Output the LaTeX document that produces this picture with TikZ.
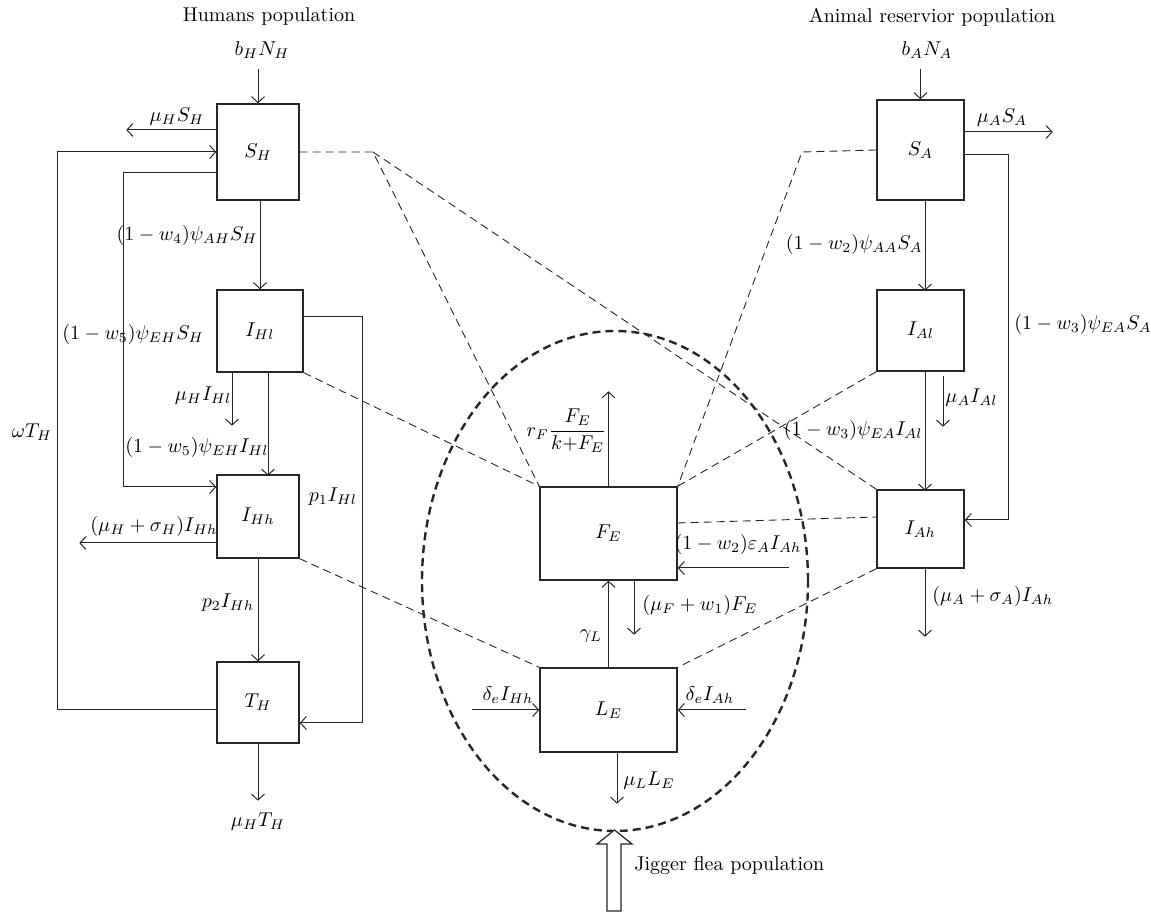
\documentclass[tikz,border=0pt]{standalone}
\usetikzlibrary{arrows.meta,calc}
\begin{document}
\begin{tikzpicture}[x=0.5pt,y=-0.5pt,
  box/.style={draw=black!85, line width=0.7pt, inner sep=0pt},
  arr/.style={draw=black!85, line width=0.5pt, -{Straight Barb[length=3pt,width=6.5pt]}},
  ln/.style={draw=black!85, line width=0.6pt},
  dl/.style={draw=black!85, line width=0.45pt, dash pattern=on 4pt off 2.5pt},
  big/.style={draw=black!85, line width=1.2pt, dash pattern=on 4pt off 2.5pt},
  lbl/.style={inner sep=0pt}]
\useasboundingbox (0,0) rectangle (1151,913);

% big dashed ellipse
\draw[big] (615,581) ellipse [x radius=96.5pt, y radius=125pt];

% boxes
\node[box, minimum width=41pt, minimum height=48pt] (SH) at (258,152) {$S_H$};
\node[box, minimum width=43pt, minimum height=41pt] (IHl) at (260,331) {$I_{Hl}$};
\node[box, minimum width=41pt, minimum height=41.5pt] (IHh) at (258,516.5) {$I_{Hh}$};
\node[box, minimum width=41pt, minimum height=40.5pt] (TH) at (258,702.5) {$T_H$};
\node[box, minimum width=43.5pt, minimum height=50pt] (SA) at (920.5,150) {$S_A$};
\node[box, minimum width=43.5pt, minimum height=40.5pt] (IAl) at (920.5,330.5) {$I_{Al}$};
\node[box, minimum width=43.5pt, minimum height=39pt] (IAh) at (920.5,529) {$I_{Ah}$};
\node[box, minimum width=68.5pt, minimum height=46.5pt] (FE) at (608.5,533.5) {$F_E$};
\node[box, minimum width=68.5pt, minimum height=42pt] (LE) at (608.5,710) {$L_E$};

% dashed interaction lines
\coordinate (cL) at (373,152);
\coordinate (cR) at (802,152);
\draw[dl] (SH.east) -- (cL) -- (FE.north west);
\draw[dl] (cL) -- (IAh.north west);
\draw[dl] (SA.west) -- (cR) -- (FE.north east);
\draw[dl] (IHl.south east) -- (FE.north west);
\draw[dl] (IHh.south east) -- (LE.north west);
\draw[dl] ([yshift=5.25pt]FE.east) -- ([yshift=6pt]IAh.west);
\draw[dl] (IAh.south west) -- (LE.north east);
\draw[dl] (IAl.south west) -- (FE.north east);

% titles
\node[lbl] (hum) at (269,17) {Humans population};
\node[lbl] (bH) at (262,50) {$b_HN_H$};
\node[lbl] (ani) at (932,17) {Animal reservior population};
\node[lbl] (bA) at (927,50) {$b_AN_A$};

% ---------- humans ----------
\draw[arr] (SH.north |- bH.south) ++(0,10) -- (SH.north);
\draw[arr] ([yshift=11pt]SH.west) -- ++(-90,0);
\node[lbl] (muHSH) at (177,117) {$\mu_HS_H$};

\coordinate (cw) at (57,152);
\draw[arr] ([yshift=-3.75pt]TH.west) -| (cw) -- (SH.west);
\node[lbl] (wTH) at (32,432) {$\omega T_H$};

\coordinate (c2) at (123,487);
\draw[arr] ([yshift=-10.5pt]SH.west) -| (c2) -- ([yshift=14.75pt]IHh.west);
\node[lbl] (l5) at (133,335) {$(1-w_5)\psi_{EH}S_H$};

\draw[arr] (IHl.north |- SH.south) -- (IHl.north);
\node[lbl, anchor=east] (l4) at (258,236) {$(1-w_4)\psi_{AH}S_H$};

\draw[arr] ([xshift=-14pt]IHl.south) -- ++(0,53);
\node[lbl] (muHIHl) at (203,396) {$\mu_HI_{Hl}$};

\draw[arr] ([xshift=4pt]IHl.south) -- ++(0,103);
\node[lbl] (l5b) at (197,448) {$(1-w_5)\psi_{EH}I_{Hl}$};

\coordinate (c3) at (362,723);
\draw[arr] ([yshift=7pt]IHl.east) -| (c3) -- ([yshift=-10.25pt]TH.east);
\node[lbl] (p1) at (333,497) {$p_1I_{Hl}$};

\draw[arr] ([yshift=-13.25pt]IHh.west) -- ++(-137,0);
\node[lbl] (musig) at (154,527) {$(\mu_H+\sigma_H)I_{Hh}$};

\draw[arr] (IHh.south) -- (TH.north);
\node[lbl] (p2) at (228,603) {$p_2I_{Hh}$};

\draw[arr] (TH.south) -- ++(0,57);
\node[lbl] (muHTH) at (258,822) {$\mu_HT_H$};

% ---------- animals ----------
\draw[arr] (SA.north |- bA.south) ++(0,10) -- (SA.north);
\draw[arr] ([yshift=9pt]SA.east) -- ++(88,0);
\node[lbl] (muASA) at (1002,118) {$\mu_AS_A$};

\coordinate (c4) at (1008,520);
\draw[arr] ([yshift=-2.5pt]SA.east) -| (c4) -- ([yshift=4.5pt]IAh.east);
\node[lbl, anchor=west] (l3) at (1014,325) {$(1-w_3)\psi_{EA}S_A$};

\draw[arr] ([xshift=2.25pt]SA.south) -- ++(0,90);
\node[lbl, anchor=east] (l2) at (923,245) {$(1-w_2)\psi_{AA}S_A$};

\draw[arr] ([xshift=2.25pt]IAl.south) -- ++(0,119);
\node[lbl, anchor=east] (l3b) at (923,431) {$(1-w_3)\psi_{EA}I_{Al}$};

\draw[arr] ([xshift=11.25pt,yshift=-2pt]IAl.south) -- ++(0,51);
\node[lbl, anchor=west] (muAIAl) at (945,398) {$\mu_AI_{Al}$};

\draw[arr] ([xshift=2.25pt]IAh.south) -- ++(0,68);
\node[lbl, anchor=west] (musigA) at (932,597) {$(\mu_A+\sigma_A)I_{Ah}$};

% ---------- jigger flea ----------
\draw[arr] (FE.north) -- ++(0,-95);
\node[lbl, anchor=east] (rF) at (607,431) {$r_F\displaystyle\frac{F_E}{k{+}F_E}$};

\draw[arr] ([xshift=55.5pt,yshift=-17.25pt]FE.east) -- ([yshift=-17.25pt]FE.east);
\node[lbl] (eps) at (738,545) {$(1-w_2)\varepsilon_AI_{Ah}$};

\draw[arr] ([xshift=12.75pt]FE.south) -- ++(0,54);
\node[lbl, anchor=west] (muF) at (642,606) {$(\mu_F+w_1)F_E$};

\draw[arr] (LE.north) -- (FE.south);
\node[lbl] (gam) at (591,636) {$\gamma_L$};

\draw[arr] ([xshift=-33.5pt]LE.west) -- (LE.west);
\node[lbl] (dH) at (508,695) {$\delta_eI_{Hh}$};
\draw[arr] ([xshift=34pt]LE.east) -- (LE.east);
\node[lbl] (dA) at (710,695) {$\delta_eI_{Ah}$};

\draw[arr] ([xshift=4.25pt]LE.south) -- ++(0,51);
\node[lbl, anchor=west] (muL) at (623,781) {$\mu_LL_E$};

% block arrow
\draw[ln, fill=white] (607,911) -- (607,844) -- (597,844) -- (614.5,830) -- (632,844) -- (621,844) -- (621,911) -- cycle;
\node[lbl, anchor=west] (jig) at (634,866) {Jigger flea population};
\end{tikzpicture}
\end{document}
